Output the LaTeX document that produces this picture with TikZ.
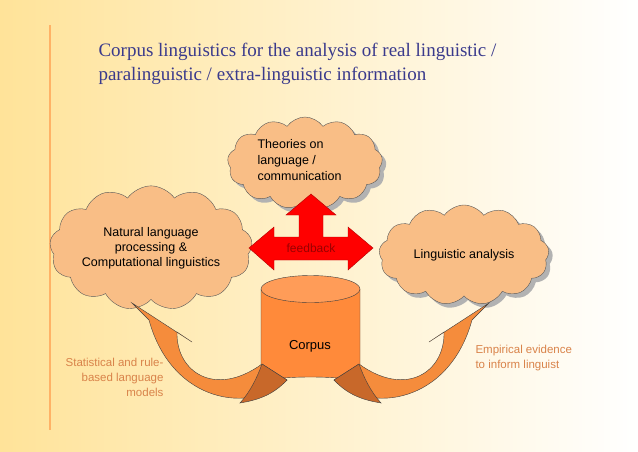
\documentclass[tikz,border=0pt]{standalone}
\usepackage{fontspec}
\setmainfont{Liberation Sans}
\newfontfamily\titlefont{Liberation Serif}
\usetikzlibrary{shapes.symbols}
\definecolor{cloudfill}{HTML}{F9BE86}
\definecolor{corpusfill}{HTML}{FF8A3A}
\definecolor{arrowfill}{HTML}{F58C3C}
\definecolor{arrowdark}{HTML}{C8682A}
\definecolor{notecolor}{HTML}{D9834A}
\definecolor{titleblue}{HTML}{3A3A8C}
\tikzset{
  idea/.style={cloud, cloud puffs=13, cloud puff arc=110, aspect=1.9, draw=gray!70!black,
    fill=cloudfill, align=center, font=\fontsize{12.5}{15}\selectfont, inner sep=0pt},
  note/.style={text=notecolor, font=\fontsize{11.5}{15}\selectfont}
}
\begin{document}
\begin{tikzpicture}[x=1pt, y=-1pt]
    \useasboundingbox (0,0) rectangle (638,451);
    \shade[left color=yellow!45!orange!40, right color=white] (0,0) rectangle (638,451);
    \draw[orange!60, line width=2pt] (50,25) -- (50,430);

    % title
    \node[anchor=west, align=left, text=titleblue, font=\titlefont\fontsize{19}{24}\selectfont] (title)
        at (95,64) {Corpus linguistics for the analysis of real linguistic /\\paralinguistic / extra-linguistic information};

    % clouds (with shadow)
    \node[idea, minimum width=155, minimum height=92, draw=none, fill=gray!60] at (309,167) {};
    \node[idea, minimum width=155, minimum height=92] (theory) at (305,163) {};
    \node[align=left, font=\fontsize{12.5}{16}\selectfont, anchor=north west] (theorytxt) at (254,136) {Theories on\\language /\\communication};
    \node[idea, minimum width=170, minimum height=100, draw=none, fill=gray!60] at (155,252) {};
    \node[idea, minimum width=170, minimum height=100] (nlp) at (151,248) {Natural language\\processing \&\\Computational linguistics};
    \node[idea, minimum width=170, minimum height=100, draw=none, fill=gray!60] at (468,259) {};
    \node[idea, minimum width=170, minimum height=100] (analysis) at (464,255) {Linguistic analysis};

    % feedback arrow
    \draw[fill=red, draw=red!70!black] (249,248) -- (274,227) -- (274,237) -- (299,237) -- (299,215)
        -- (286,215) -- (311,194) -- (336,215) -- (323,215) -- (323,237) -- (348,237) -- (348,227)
        -- (373,248) -- (348,270) -- (348,260) -- (274,260) -- (274,270) -- cycle;
    \node[text=red!60!black, font=\fontsize{12}{14}\selectfont] (feedback) at (311,248) {feedback};

    % corpus cylinder
    \draw[fill=corpusfill, draw=gray!50!black] (261,289) -- (261,383) arc[start angle=180, end angle=360,
        x radius=49.5, y radius=6] -- (360,289);
    \draw[fill=corpusfill!85!white, draw=gray!50!black] (310.5,289) ellipse[x radius=49.5, y radius=13.5];
    \node[font=\fontsize{13}{15}\selectfont] (corpus) at (310,346) {Corpus};

    % curved arrows
    \foreach \flip/\shift in {1/0, -1/621} {
      \begin{scope}[xshift=\shift, xscale=\flip]
        \draw[fill=arrowfill, draw=gray!50!black] (132,303) -- (192,342) -- (177,332)
            .. controls (176,372) and (215,398) .. (262,364) -- (287,380)
            .. controls (252,414) and (172,404) .. (149,320) -- cycle;
        \draw[fill=arrowdark, draw=gray!50!black] (262,364) -- (287,380)
            .. controls (273,395) and (258,400) .. (240,403)
            .. controls (250,392) and (257,378) .. cycle;
      \end{scope}
    }

    % notes
    \node[note, align=right, anchor=north east] (modelsnote) at (167,355) {Statistical and rule-\\based language\\models};
    \node[note, align=left, anchor=north west] (evidencenote) at (472,342) {Empirical evidence\\to inform linguist};
\end{tikzpicture}
\end{document}
